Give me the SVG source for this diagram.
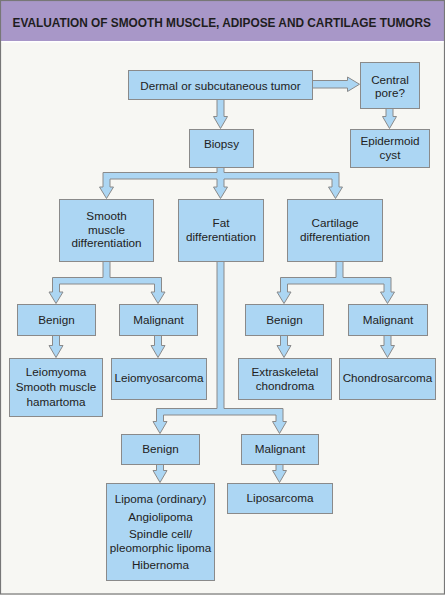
<svg xmlns="http://www.w3.org/2000/svg" width="445" height="595" viewBox="0 0 445 595">
<style>
.box{fill:#acd6f3;stroke:#8a8a8a;stroke-width:1}
.conn{fill:#acd6f3;stroke:#8a8a8a;stroke-width:1;stroke-linejoin:miter}
text{font-family:"Liberation Sans",Arial,Helvetica,sans-serif;font-size:11.7px;fill:#222;text-anchor:middle}
.title{font-weight:bold;font-size:11.85px;text-anchor:start;fill:#1e1e1e}
</style>
<rect x="0" y="0" width="445" height="595" fill="#f7f7f3"/>
<rect x="0" y="0" width="445" height="41" fill="#a897c8"/>
<rect x="0" y="41" width="445" height="1.5" fill="#ffffff"/>
<text class="title" x="12.5" y="26.5">EVALUATION OF SMOOTH MUSCLE, ADIPOSE AND CARTILAGE TUMORS</text>
<rect x="0.5" y="0.5" width="444" height="593.5" fill="none" stroke="#777" stroke-width="1.2"/>

<g id="connectors">
<path class="conn" d="M217,99 V116.5 H213.5 L220.5,128.5 L227.5,116.5 H224 V99 Z"/>
<path class="conn" d="M312,80.5 H347.5 V77 L359.5,84.25 L347.5,91.5 V88 H312 Z"/>
<path class="conn" d="M386,108 V116.5 H382.5 L389.5,128.5 L396.5,116.5 H393 V108 Z"/>
<path class="conn" d="M217,167 V172.5 H103 V187 H99.5 L106.5,198.5 L113.5,187 H110 V179 H217 V187 H213.5 L220.5,198.5 L227.5,187 H224 V179 H332 V187 H328.5 L335.5,198.5 L342.5,187 H339 V172.5 H224 V167 Z"/>
<path class="conn" d="M103,261 V277.5 H52.5 V292 H49 L56,303.5 L63,292 H59.5 V284 H154.5 V292 H151 L158,303.5 L165,292 H161.5 V277.5 H110 V261 Z"/>
<path class="conn" d="M336,261 V277.5 H280.5 V292 H277 L284,303.5 L291,292 H287.5 V284 H384 V292 H380.5 L387.5,303.5 L394.5,292 H391 V277.5 H343 V261 Z"/>
<path class="conn" d="M217,261 V408.5 H156.5 V421.5 H153 L160,433.5 L167,421.5 H163.5 V415 H276 V421.5 H272.5 L279.5,433.5 L286.5,421.5 H283 V408.5 H224 V261 Z"/>
<path class="conn" d="M52.5,335 V345.5 H49 L56,357.5 L63,345.5 H59.5 V335 Z"/>
<path class="conn" d="M154.5,335 V345.5 H151 L158,357.5 L165,345.5 H161.5 V335 Z"/>
<path class="conn" d="M280.5,335 V345.5 H277 L284,357.5 L291,345.5 H287.5 V335 Z"/>
<path class="conn" d="M384,335 V345.5 H380.5 L387.5,357.5 L394.5,345.5 H391 V335 Z"/>
<path class="conn" d="M156.5,464 V470.5 H153 L160,482.5 L167,470.5 H163.5 V464 Z"/>
<path class="conn" d="M276,464 V470.5 H272.5 L279.5,482.5 L286.5,470.5 H283 V464 Z"/>
</g>

<g id="dermal"><rect class="box" x="128.5" y="70.5" width="184" height="29"/><text x="220.5" y="89.5">Dermal or subcutaneous tumor</text></g>
<g id="central-pore"><rect class="box" x="360.5" y="62.5" width="59" height="46"/><text x="390" y="83.5">Central</text><text x="390" y="97">pore?</text></g>
<g id="biopsy"><rect class="box" x="189.5" y="129.5" width="64" height="38"/><text x="221.5" y="148">Biopsy</text></g>
<g id="epidermoid"><rect class="box" x="350.5" y="129.5" width="79" height="38"/><text x="390" y="145">Epidermoid</text><text x="390" y="158.5">cyst</text></g>
<g id="smooth"><rect class="box" x="59.5" y="199.5" width="94" height="62"/><text x="106.5" y="220">Smooth</text><text x="106.5" y="233.5">muscle</text><text x="106.5" y="247">differentiation</text></g>
<g id="fat"><rect class="box" x="178.5" y="199.5" width="85" height="62"/><text x="221" y="227">Fat</text><text x="221" y="240.5">differentiation</text></g>
<g id="cartilage"><rect class="box" x="287.5" y="199.5" width="95" height="62"/><text x="335" y="227">Cartilage</text><text x="335" y="240.5">differentiation</text></g>
<g id="sm-benign"><rect class="box" x="17.5" y="304.5" width="78" height="31"/><text x="56.5" y="323.5">Benign</text></g>
<g id="sm-malignant"><rect class="box" x="119.5" y="304.5" width="78" height="31"/><text x="158.5" y="323.5">Malignant</text></g>
<g id="ca-benign"><rect class="box" x="245.5" y="304.5" width="78" height="31"/><text x="284.5" y="323.5">Benign</text></g>
<g id="ca-malignant"><rect class="box" x="348.5" y="304.5" width="79" height="31"/><text x="388" y="323.5">Malignant</text></g>
<g id="leiomyoma"><rect class="box" x="9.5" y="358.5" width="93" height="58"/><text x="56" y="376">Leiomyoma</text><text x="56" y="391">Smooth muscle</text><text x="56" y="405.5">hamartoma</text></g>
<g id="leiomyosarcoma"><rect class="box" x="111.5" y="358.5" width="95" height="41"/><text x="159" y="382">Leiomyosarcoma</text></g>
<g id="extraskeletal"><rect class="box" x="238.5" y="358.5" width="93" height="41"/><text x="285" y="376">Extraskeletal</text><text x="285" y="389.5">chondroma</text></g>
<g id="chondrosarcoma"><rect class="box" x="339.5" y="358.5" width="96" height="41"/><text x="387.5" y="382">Chondrosarcoma</text></g>
<g id="fat-benign"><rect class="box" x="121.5" y="434.5" width="78" height="30"/><text x="160.5" y="452.5">Benign</text></g>
<g id="fat-malignant"><rect class="box" x="241.5" y="434.5" width="77" height="30"/><text x="280" y="452.5">Malignant</text></g>
<g id="lipoma"><rect class="box" x="106.5" y="483.5" width="108" height="97"/><text x="160.5" y="503">Lipoma (ordinary)</text><text x="160.5" y="520.5">Angiolipoma</text><text x="160.5" y="537.5">Spindle cell/</text><text x="160.5" y="551.5">pleomorphic lipoma</text><text x="160.5" y="569">Hibernoma</text></g>
<g id="liposarcoma"><rect class="box" x="227.5" y="483.5" width="105" height="30"/><text x="280" y="501.5">Liposarcoma</text></g>
</svg>
